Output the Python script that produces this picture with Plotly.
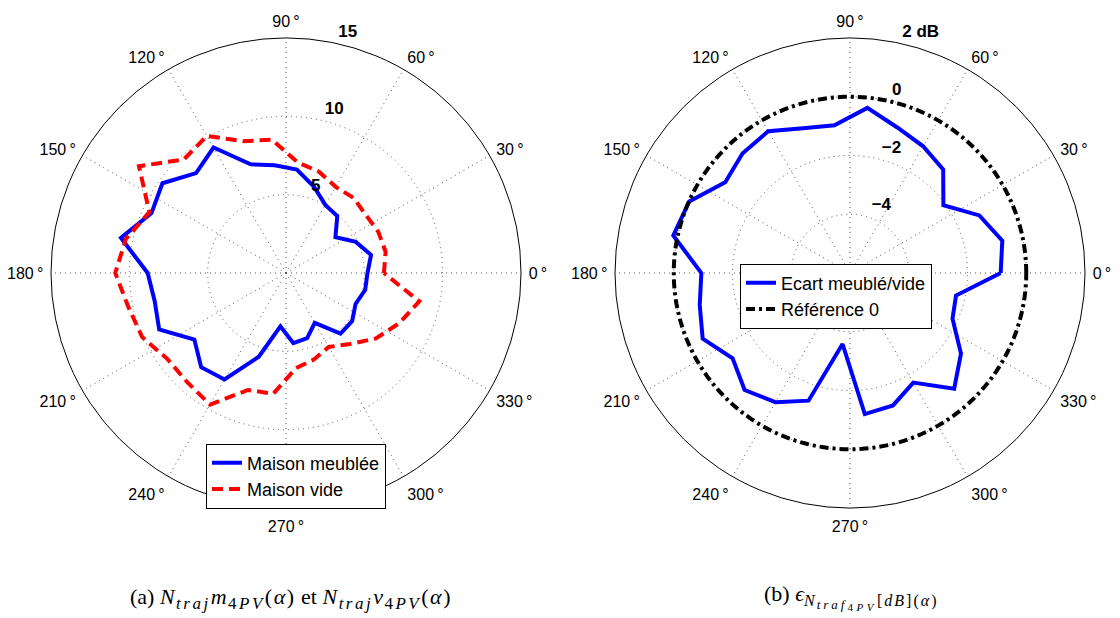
import plotly.graph_objects as go

# ---------------- data ----------------
ANGLES = [0, 12, 24, 36, 48, 60, 72, 84, 96, 108, 120, 132, 144, 156, 168,
          180, 192, 204, 216, 228, 240, 252, 264, 276, 288, 300, 312, 324, 336, 348]

MEUBLEE = [5.2, 5.55, 4.88, 3.9, 4.89, 5.02, 5.79, 6.64, 6.91, 7.3, 9.25, 8.58, 9.75, 9.4, 10.77,
           8.83, 8.57, 8.86, 7.23, 8.09, 7.85, 5.62, 3.42, 4.5, 4.37, 3.67, 5.2, 5.22, 4.86, 5.17]

VIDE = [6.25, 6.5, 6.45, 6.3, 6.45, 6.35, 6.8, 7.1, 8.55, 8.85, 10.1, 9.75, 11.6, 9.55, 10.45,
        10.9, 10.3, 10.05, 9.35, 9.4, 9.7, 7.85, 7.75, 6.1, 5.8, 5.45, 6.1, 7.1, 7.9, 8.7]

ECART_DB = [-0.87, -0.70, -1.18, -2.07, -1.26, -1.02, -0.79, -0.35, -0.94, -0.82, -0.43, -0.53, -0.75, -0.01, 0.15,
            -0.94, -0.77, -0.51, -1.06, -0.64, -0.92, -1.43, -3.57, -1.17, -1.26, -1.69, -0.70, -1.33, -2.18, -2.31]

REF_VALUE = 0
REF_ANGLES = list(range(0, 361, 2))

LEFT_RANGE = [0, 15]
LEFT_TICKS = [5, 10, 15]
LEFT_TICKTEXT = ["5", "10", "15"]
RIGHT_RANGE = [-6, 2]
RIGHT_TICKS = [-4, -2, 0, 2]
RIGHT_TICKTEXT = ["\u22124", "\u22122", "0", "2 dB"]

NAMES = ["Maison meublée", "Maison vide", "Ecart meublé/vide", "Référence 0"]

M0 = "<span style='letter-spacing:1.5px'>%s</span>"
S1 = "<span style='font-size:17px;letter-spacing:2.5px'>%s</span>"
T1 = "<span style='font-size:16px;letter-spacing:2px'>%s</span>"
T2 = "<span style='font-size:13px;letter-spacing:3px'>%s</span>"
T3 = "<span style='font-size:11px;letter-spacing:3.5px'>%s</span>"
CAPTION_A = ("(a) " + M0 % "<i>N</i>" + "<sub>" + S1 % "<i>traj</i>" + "</sub>" + M0 % "<i>m</i>"
             + "<sub>" + S1 % "4<i>PV</i>" + "</sub>" + M0 % "(<i>α</i>)" + " et "
             + M0 % "<i>N</i>" + "<sub>" + S1 % "<i>traj</i>" + "</sub>" + M0 % "<i>v</i>"
             + "<sub>" + S1 % "4<i>PV</i>" + "</sub>" + M0 % "(<i>α</i>)")
CAPTION_B = ("(b) <i>ϵ</i><sub>" + T1 % "<i>N</i>" + "<sub>" + T2 % "<i>traf</i>" + "<sub>"
             + T3 % "4<i>PV</i>" + "</sub></sub>" + T1 % "[<i>dB</i>](<i>α</i>)" + "</sub>")


def closed(seq):
    return list(seq) + [seq[0]]


SANS = "Liberation Sans, Arial, Helvetica, sans-serif"
SERIF = "Liberation Serif, Times New Roman, serif"

fig = go.Figure()

fig.add_trace(go.Scatterpolar(r=closed(MEUBLEE), theta=closed(ANGLES), mode="lines",
                              name=NAMES[0], subplot="polar", legend="legend",
                              line=dict(color="#0000FF", width=4)))
fig.add_trace(go.Scatterpolar(r=closed(VIDE), theta=closed(ANGLES), mode="lines",
                              name=NAMES[1], subplot="polar", legend="legend",
                              line=dict(color="#FF0000", width=4, dash="11px,6px")))
fig.add_trace(go.Scatterpolar(r=closed(ECART_DB), theta=closed(ANGLES), mode="lines",
                              name=NAMES[2], subplot="polar2", legend="legend2",
                              line=dict(color="#0000FF", width=4)))
fig.add_trace(go.Scatterpolar(r=[REF_VALUE] * len(REF_ANGLES), theta=REF_ANGLES, mode="lines",
                              name=NAMES[3], subplot="polar2", legend="legend2",
                              line=dict(color="#000000", width=4, dash="9px,4px,3px,4px")))
# empty traces that only host the radial tick-label layers
fig.add_trace(go.Scatterpolar(r=[], theta=[], subplot="polar3", showlegend=False, hoverinfo="skip"))
fig.add_trace(go.Scatterpolar(r=[], theta=[], subplot="polar4", showlegend=False, hoverinfo="skip"))

W, H = 1120, 618
OFF = 8  # page body margin
R = 235          # plot radius in px
LAB_R = 252      # radius of the tick-label layer in px
LAB_SHIFT = 15   # labels sit this many px outside their ring


def dom_centered(cx, cy, rad):
    return dict(x=[(cx - rad - OFF) / W, (cx + rad - OFF) / W],
                y=[1 - (cy + rad - OFF) / H, 1 - (cy - rad - OFF) / H])


def label_range(rng):
    lo, hi = rng
    per_px = (hi - lo) / R
    a = lo - LAB_SHIFT * per_px
    return [a, a + LAB_R * per_px]


def px(x):
    return (x - OFF) / W


def py(y):
    return 1 - (y - OFF) / H


angular = dict(rotation=0, direction="counterclockwise", dtick=30, ticksuffix="\u2009°",
               showline=True, linecolor="black", linewidth=1,
               showgrid=True, gridcolor="#555555", griddash="1px,4px", gridwidth=1,
               ticks="outside", ticklen=4, tickcolor="rgba(0,0,0,0)",
               tickfont=dict(family=SANS, size=16, color="black"))

radial_grid = dict(showline=False, ticks="", showticklabels=False,
                   showgrid=True, gridcolor="#555555", griddash="1px,4px", gridwidth=1)

radial_labels = dict(angle=80, side="clockwise", showline=False, ticks="", tickangle=80,
                     showgrid=False, tickfont=dict(family=SANS, size=17, color="black"))

hidden_ang = dict(visible=False)

CX_L, CX_R, CY = 286, 850, 273

fig.update_layout(
    width=W, height=H,
    margin=dict(l=0, r=0, t=0, b=0),
    paper_bgcolor="white",
    polar=dict(domain=dom_centered(CX_L, CY, R), bgcolor="white", angularaxis=angular,
               radialaxis=dict(range=LEFT_RANGE, tickvals=LEFT_TICKS, **radial_grid)),
    polar2=dict(domain=dom_centered(CX_R, CY, R), bgcolor="white", angularaxis=angular,
                radialaxis=dict(range=RIGHT_RANGE, tickvals=RIGHT_TICKS, **radial_grid)),
    polar3=dict(domain=dom_centered(CX_L, CY, LAB_R), bgcolor="rgba(0,0,0,0)", angularaxis=hidden_ang,
                radialaxis=dict(range=label_range(LEFT_RANGE), tickvals=LEFT_TICKS,
                                ticktext=["<b>%s</b>" % t for t in LEFT_TICKTEXT], **radial_labels)),
    polar4=dict(domain=dom_centered(CX_R, CY, LAB_R), bgcolor="rgba(0,0,0,0)", angularaxis=hidden_ang,
                radialaxis=dict(range=label_range(RIGHT_RANGE), tickvals=RIGHT_TICKS,
                                ticktext=["<b>%s</b>" % t for t in RIGHT_TICKTEXT], **radial_labels)),
    legend=dict(x=px(296), y=py(476), xanchor="center", yanchor="middle",
                bgcolor="white", bordercolor="black", borderwidth=1,
                font=dict(family=SANS, size=18, color="black"), tracegroupgap=0),
    legend2=dict(x=px(836), y=py(296), xanchor="center", yanchor="middle",
                 bgcolor="white", bordercolor="black", borderwidth=1,
                 font=dict(family=SANS, size=18, color="black"), tracegroupgap=0),
    annotations=[
        dict(text=CAPTION_A, x=px(291), y=py(598), xref="paper", yref="paper",
             showarrow=False, xanchor="center", yanchor="middle",
             font=dict(family=SERIF, size=22, color="black")),
        dict(text=CAPTION_B, x=px(851), y=py(597), xref="paper", yref="paper",
             showarrow=False, xanchor="center", yanchor="middle",
             font=dict(family=SERIF, size=22, color="black")),
    ],
)

fig.write_html("out.html")
